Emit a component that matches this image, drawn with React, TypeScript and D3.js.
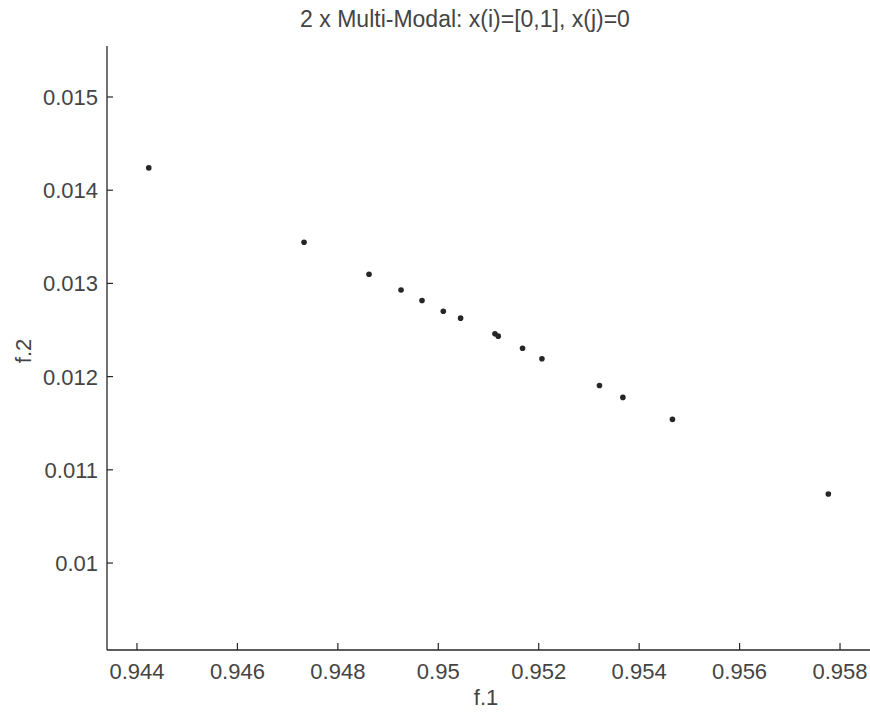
import React from "react";
import * as d3 from "d3";

const f1Values = [0.944235, 0.947327, 0.948621, 0.949258, 0.949676, 0.9501, 0.950444, 0.951128, 0.951194, 0.951678, 0.952064, 0.95321, 0.953676, 0.954663, 0.957767];
const f2Values = [0.014239, 0.013442, 0.013099, 0.01293, 0.012817, 0.012702, 0.012627, 0.012459, 0.012434, 0.012305, 0.012191, 0.011905, 0.011777, 0.011541, 0.01074];
const xTicks = [0.944, 0.946, 0.948, 0.95, 0.952, 0.954, 0.956, 0.958];
const yTicks = [0.01, 0.011, 0.012, 0.013, 0.014, 0.015];
const xDomain = [0.943403, 0.958597];
const yDomain = [0.009067, 0.015547];

const W = 870;
const H = 715;
const left = 107;
const right = 870;
const top = 46;
const bottom = 650;
const font = "'Liberation Sans', Arial, sans-serif";
const ink = "#444";

export default function App() {
  const x = d3.scaleLinear().domain(xDomain).range([left, right]);
  const y = d3.scaleLinear().domain(yDomain).range([bottom, top]);
  const fmt = (v: number) => String(+v.toFixed(4));
  const pts = d3.zip(f1Values, f2Values);
  return (
    <svg width={W} height={H} style={{ position: "absolute", left: 0, top: 0, background: "#fff" }}>
      <rect x={0} y={0} width={W} height={H} fill="#fff" />
      <text x={465} y={27} textAnchor="middle" fontFamily={font} fontSize={23} fill={ink}>
        2 x Multi-Modal: x(i)=[0,1], x(j)=0
      </text>
      <line x1={left} y1={top} x2={left} y2={bottom} stroke="#262626" strokeWidth={1.3} />
      <line x1={left} y1={bottom} x2={right} y2={bottom} stroke="#262626" strokeWidth={1.3} />
      {xTicks.map((t) => (
        <g key={"x" + t}>
          <line x1={x(t)} x2={x(t)} y1={bottom} y2={bottom - 7} stroke="#262626" strokeWidth={1.2} />
          <text x={x(t)} y={679} textAnchor="middle" fontFamily={font} fontSize={22} fill={ink}>
            {fmt(t)}
          </text>
        </g>
      ))}
      {yTicks.map((t) => (
        <g key={"y" + t}>
          <line x1={left} x2={left + 6} y1={y(t)} y2={y(t)} stroke="#262626" strokeWidth={1.2} />
          <text x={98} y={y(t) + 8} textAnchor="end" fontFamily={font} fontSize={22} fill={ink}>
            {fmt(t)}
          </text>
        </g>
      ))}
      <text x={486} y={705} textAnchor="middle" fontFamily={font} fontSize={22} fill={ink}>
        f.1
      </text>
      <text
        transform="translate(31,351) rotate(-90)"
        textAnchor="middle"
        fontFamily={font}
        fontSize={22}
        fill={ink}
      >
        f.2
      </text>
      {pts.map(([a, b], i) => (
        <circle key={i} cx={x(a)} cy={y(b)} r={2.8} fill="#262626" />
      ))}
    </svg>
  );
}
